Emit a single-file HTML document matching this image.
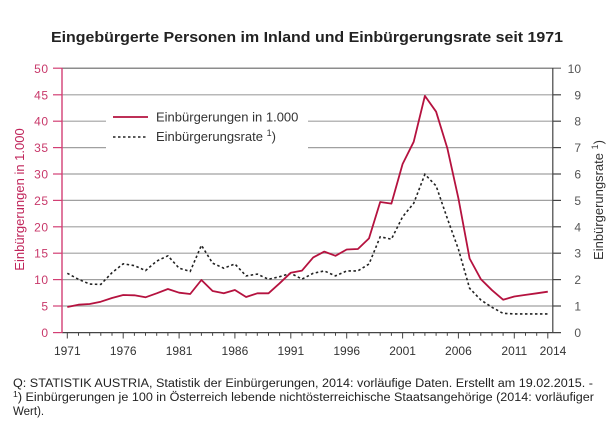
<!DOCTYPE html>
<html><head><meta charset="utf-8"><style>
html,body{margin:0;padding:0;background:#fff;}
svg{display:block;font-family:"Liberation Sans",Arial,sans-serif;}
</style></head><body>
<svg width="616" height="430" viewBox="0 0 616 430" xmlns="http://www.w3.org/2000/svg">
<rect width="616" height="430" fill="#fff"/>
<text x="307" y="42" font-size="15" font-weight="bold" fill="#222" text-anchor="middle" textLength="512" lengthAdjust="spacingAndGlyphs">Eingebürgerte Personen im Inland und Einbürgerungsrate seit 1971</text>

<!-- gridlines -->
<g stroke="#a0a0a0" stroke-width="1.2">
<line x1="62" y1="306" x2="553" y2="306"/>
<line x1="62" y1="279.6" x2="553" y2="279.6"/>
<line x1="62" y1="253.2" x2="553" y2="253.2"/>
<line x1="62" y1="226.8" x2="553" y2="226.8"/>
<line x1="62" y1="200.4" x2="553" y2="200.4"/>
<line x1="62" y1="174" x2="553" y2="174"/>
<line x1="62" y1="147.6" x2="553" y2="147.6"/>
<line x1="62" y1="121.2" x2="553" y2="121.2"/>
<line x1="62" y1="94.8" x2="553" y2="94.8"/>
</g>
<line x1="62" y1="68.2" x2="561" y2="68.2" stroke="#666" stroke-width="1.2"/>

<!-- legend box -->
<rect x="106" y="101" width="202" height="49" fill="#fff"/>
<line x1="113" y1="117" x2="148" y2="117" stroke="#b5123f" stroke-width="1.8"/>
<text x="156" y="121.7" font-size="13" fill="#333">Einbürgerungen in 1.000</text>
<line x1="113" y1="137" x2="148" y2="137" stroke="#222" stroke-width="1.6" stroke-dasharray="2.5,2.5"/>
<text x="156" y="141" font-size="13" fill="#333">Einbürgerungsrate <tspan font-size="9" dy="-5">1</tspan><tspan dy="5">)</tspan></text>

<!-- bottom axis -->
<line x1="62" y1="332.6" x2="561" y2="332.6" stroke="#444" stroke-width="1.2"/>
<g stroke="#444" stroke-width="1">
<line x1="67.3" y1="333" x2="67.3" y2="338.5"/>
<line x1="78.5" y1="333" x2="78.5" y2="335.8"/>
<line x1="89.7" y1="333" x2="89.7" y2="335.8"/>
<line x1="100.8" y1="333" x2="100.8" y2="335.8"/>
<line x1="112.0" y1="333" x2="112.0" y2="335.8"/>
<line x1="123.2" y1="333" x2="123.2" y2="338.5"/>
<line x1="134.4" y1="333" x2="134.4" y2="335.8"/>
<line x1="145.5" y1="333" x2="145.5" y2="335.8"/>
<line x1="156.7" y1="333" x2="156.7" y2="335.8"/>
<line x1="167.9" y1="333" x2="167.9" y2="335.8"/>
<line x1="179.1" y1="333" x2="179.1" y2="338.5"/>
<line x1="190.2" y1="333" x2="190.2" y2="335.8"/>
<line x1="201.4" y1="333" x2="201.4" y2="335.8"/>
<line x1="212.6" y1="333" x2="212.6" y2="335.8"/>
<line x1="223.8" y1="333" x2="223.8" y2="335.8"/>
<line x1="234.9" y1="333" x2="234.9" y2="338.5"/>
<line x1="246.1" y1="333" x2="246.1" y2="335.8"/>
<line x1="257.3" y1="333" x2="257.3" y2="335.8"/>
<line x1="268.5" y1="333" x2="268.5" y2="335.8"/>
<line x1="279.6" y1="333" x2="279.6" y2="335.8"/>
<line x1="290.8" y1="333" x2="290.8" y2="338.5"/>
<line x1="302.0" y1="333" x2="302.0" y2="335.8"/>
<line x1="313.2" y1="333" x2="313.2" y2="335.8"/>
<line x1="324.3" y1="333" x2="324.3" y2="335.8"/>
<line x1="335.5" y1="333" x2="335.5" y2="335.8"/>
<line x1="346.7" y1="333" x2="346.7" y2="338.5"/>
<line x1="357.9" y1="333" x2="357.9" y2="335.8"/>
<line x1="369.0" y1="333" x2="369.0" y2="335.8"/>
<line x1="380.2" y1="333" x2="380.2" y2="335.8"/>
<line x1="391.4" y1="333" x2="391.4" y2="335.8"/>
<line x1="402.6" y1="333" x2="402.6" y2="338.5"/>
<line x1="413.7" y1="333" x2="413.7" y2="335.8"/>
<line x1="424.9" y1="333" x2="424.9" y2="335.8"/>
<line x1="436.1" y1="333" x2="436.1" y2="335.8"/>
<line x1="447.3" y1="333" x2="447.3" y2="335.8"/>
<line x1="458.4" y1="333" x2="458.4" y2="338.5"/>
<line x1="469.6" y1="333" x2="469.6" y2="335.8"/>
<line x1="480.8" y1="333" x2="480.8" y2="335.8"/>
<line x1="492.0" y1="333" x2="492.0" y2="335.8"/>
<line x1="503.1" y1="333" x2="503.1" y2="335.8"/>
<line x1="514.3" y1="333" x2="514.3" y2="338.5"/>
<line x1="525.5" y1="333" x2="525.5" y2="335.8"/>
<line x1="536.7" y1="333" x2="536.7" y2="335.8"/>
<line x1="547.8" y1="333" x2="547.8" y2="338.5"/>
</g>
<g font-size="12" fill="#333" text-anchor="middle">
<text x="67.3" y="355">1971</text>
<text x="123.2" y="355">1976</text>
<text x="179.1" y="355">1981</text>
<text x="234.9" y="355">1986</text>
<text x="290.8" y="355">1991</text>
<text x="346.7" y="355">1996</text>
<text x="402.6" y="355">2001</text>
<text x="458.4" y="355">2006</text>
<text x="514.3" y="355">2011</text>
<text x="553" y="355">2014</text>
</g>

<!-- right axis -->
<line x1="552.8" y1="68" x2="552.8" y2="333" stroke="#444" stroke-width="1.2"/>
<g stroke="#444" stroke-width="1.2">
<line x1="553" y1="306" x2="561" y2="306"/>
<line x1="553" y1="279.6" x2="561" y2="279.6"/>
<line x1="553" y1="253.2" x2="561" y2="253.2"/>
<line x1="553" y1="226.8" x2="561" y2="226.8"/>
<line x1="553" y1="200.4" x2="561" y2="200.4"/>
<line x1="553" y1="174" x2="561" y2="174"/>
<line x1="553" y1="147.6" x2="561" y2="147.6"/>
<line x1="553" y1="121.2" x2="561" y2="121.2"/>
<line x1="553" y1="94.8" x2="561" y2="94.8"/>
</g>
<g font-size="12" fill="#555" text-anchor="end">
<text x="581" y="337">0</text>
<text x="581" y="310.5">1</text>
<text x="581" y="284">2</text>
<text x="581" y="257.7">3</text>
<text x="581" y="231.3">4</text>
<text x="581" y="204.9">5</text>
<text x="581" y="178.5">6</text>
<text x="581" y="152.1">7</text>
<text x="581" y="125.7">8</text>
<text x="581" y="99.3">9</text>
<text x="581" y="72.8">10</text>
</g>
<text transform="translate(603,200) rotate(-90)" font-size="13" fill="#333" text-anchor="middle">Einbürgerungsrate <tspan font-size="9" dy="-5">1</tspan><tspan dy="5">)</tspan></text>

<!-- left axis -->
<line x1="62" y1="68" x2="62" y2="333" stroke="#d23f74" stroke-width="1.4"/>
<g stroke="#d23f74" stroke-width="1.2">
<line x1="53" y1="332.6" x2="62" y2="332.6"/>
<line x1="53" y1="306" x2="62" y2="306"/>
<line x1="53" y1="279.6" x2="62" y2="279.6"/>
<line x1="53" y1="253.2" x2="62" y2="253.2"/>
<line x1="53" y1="226.8" x2="62" y2="226.8"/>
<line x1="53" y1="200.4" x2="62" y2="200.4"/>
<line x1="53" y1="174" x2="62" y2="174"/>
<line x1="53" y1="147.6" x2="62" y2="147.6"/>
<line x1="53" y1="121.2" x2="62" y2="121.2"/>
<line x1="53" y1="94.8" x2="62" y2="94.8"/>
<line x1="53" y1="68.2" x2="62" y2="68.2"/>
</g>
<g font-size="12" fill="#c8386a" text-anchor="end" letter-spacing="0.5">
<text x="48.5" y="337">0</text>
<text x="48.5" y="310.5">5</text>
<text x="48.5" y="284">10</text>
<text x="48.5" y="257.7">15</text>
<text x="48.5" y="231.3">20</text>
<text x="48.5" y="204.9">25</text>
<text x="48.5" y="178.5">30</text>
<text x="48.5" y="152.1">35</text>
<text x="48.5" y="125.7">40</text>
<text x="48.5" y="99.3">45</text>
<text x="48.5" y="72.8">50</text>
</g>
<text transform="translate(24,199.5) rotate(-90)" font-size="13" fill="#c0245a" text-anchor="middle">Einbürgerungen in 1.000</text>

<!-- series -->
<polyline fill="none" stroke="#222" stroke-width="1.6" stroke-dasharray="2.5,2.5" points="67.3,273.3 78.5,279.3 89.7,284.1 100.8,284.4 112.0,272.7 123.2,263.8 134.4,265.6 145.5,270.6 156.7,261.1 167.9,255.8 179.1,268.2 190.2,271.4 201.4,245.3 212.6,263.2 223.8,268.2 234.9,264.0 246.1,275.9 257.3,274.1 268.5,279.3 279.6,276.7 290.8,273.3 302.0,279.1 313.2,273.3 324.3,270.9 335.5,275.9 346.7,270.9 357.9,270.9 369.0,264.0 380.2,236.8 391.4,239.2 402.6,216.8 413.7,203.3 424.9,174.3 436.1,185.9 447.3,218.4 458.4,249.2 469.6,288.3 480.8,299.9 492.0,307.3 503.1,313.4 514.3,313.9 525.5,313.9 536.7,313.9 547.8,313.9"/>
<polyline fill="none" stroke="#b5123f" stroke-width="1.8" stroke-linejoin="round" points="67.3,307.0 78.5,304.7 89.7,304.0 100.8,301.7 112.0,298.0 123.2,295.0 134.4,295.3 145.5,297.3 156.7,293.3 167.9,289.0 179.1,292.7 190.2,294.0 201.4,280.0 212.6,291.0 223.8,293.3 234.9,290.0 246.1,297.0 257.3,293.3 268.5,293.3 279.6,283.3 290.8,272.7 302.0,270.6 313.2,257.4 324.3,251.6 335.5,255.8 346.7,249.5 357.9,249.0 369.0,238.4 380.2,202.0 391.4,203.6 402.6,164.0 413.7,141.8 424.9,95.9 436.1,111.7 447.3,148.1 458.4,198.3 469.6,258.5 480.8,279.1 492.0,290.2 503.1,299.7 514.3,296.5 525.5,294.9 536.7,293.3 547.8,291.7"/>

<!-- footnote -->
<g font-size="11.5" fill="#222">
<text x="13" y="387" textLength="580" lengthAdjust="spacingAndGlyphs">Q: STATISTIK AUSTRIA, Statistik der Einbürgerungen, 2014: vorläufige Daten. Erstellt am 19.02.2015. -</text>
<text x="13" y="401" textLength="581" lengthAdjust="spacingAndGlyphs"><tspan font-size="8" dy="-4">1</tspan><tspan dy="4">) Einbürgerungen je 100 in Österreich lebende nichtösterreichische Staatsangehörige (2014: vorläufiger</tspan></text>
<text x="13" y="415">Wert).</text>
</g>
</svg>
</body></html>
